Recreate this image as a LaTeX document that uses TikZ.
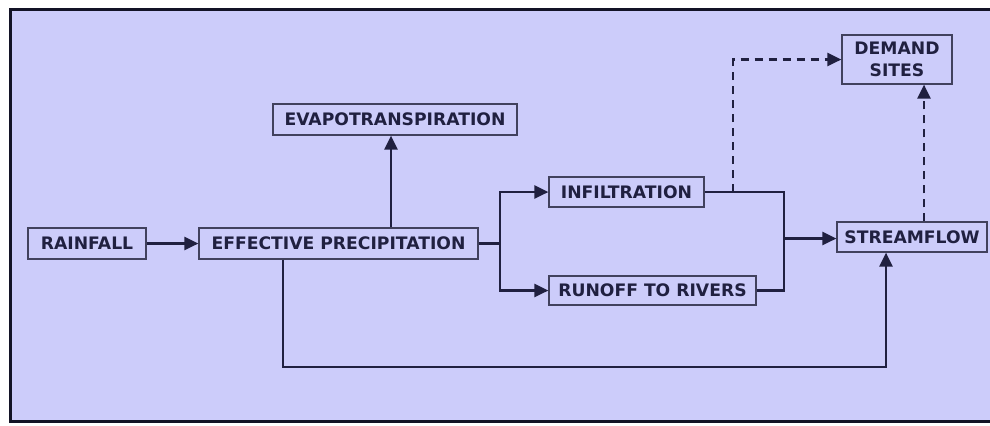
\documentclass[tikz,border=0pt]{standalone}
\usepackage{fontspec}
\setmainfont{DejaVu Sans}
\usetikzlibrary{arrows.meta}

\definecolor{lavender}{RGB}{204,204,250}
\definecolor{inkblue}{RGB}{32,32,64}

\tikzset{
  stage/.style={draw=inkblue!85, line width=0.6pt, fill=lavender, inner sep=0pt,
    font=\bfseries\fontsize{8.6}{10}\selectfont, text=inkblue, align=center},
  link/.style={line width=1.2pt, draw=inkblue},
  flow/.style={link, -{Triangle[length=7pt,width=6.5pt]}},
  supply/.style={flow, dash pattern=on 4pt off 3pt}
}

\begin{document}
\begin{tikzpicture}[x=0.5pt, y=-0.5pt]

  % Canvas and frame
  \useasboundingbox (0,0) rectangle (990,425);
  \clip (0,0) rectangle (990,425);
  \fill[white] (0,0) rectangle (990,425);
  \draw[line width=1.5pt, draw=inkblue!60!black, fill=lavender] (10.5,9.5) rectangle (1000,421);

  % Stages
  \node[stage, minimum width=59pt, minimum height=15.5pt] (rain) at (87,243.5) {RAINFALL};
  \node[stage, minimum width=139.5pt, minimum height=15.5pt] (eff) at (338.5,243.5) {EFFECTIVE PRECIPITATION};
  \node[stage, minimum width=122pt, minimum height=15.5pt] (evap) at (395,119.5) {EVAPOTRANSPIRATION};
  \node[stage, minimum width=77.5pt, minimum height=15pt] (infil) at (626.5,192) {INFILTRATION};
  \node[stage, minimum width=103.5pt, minimum height=14.5pt] (runoff) at (652.5,290.5) {RUNOFF TO RIVERS};
  \node[stage, minimum width=75pt, minimum height=15pt] (stream) at (912,237) {STREAMFLOW};
  \node[stage, minimum width=55pt, minimum height=24.5pt] (demand) at (897,59.5) {DEMAND\\[1pt]SITES};

  % Junctions
  \coordinate (split) at (500,243.5);
  \coordinate (merge) at (784,238.5);
  \coordinate (tap) at (733,192);
  \coordinate (loopL) at (283,367);
  \coordinate (loopR) at (886,367);

  % Connectors
  \draw[flow] (rain) -- (eff);
  \draw[flow] (391,0 |- eff.north) -- (391,0 |- evap.south);
  \draw[link] (eff) -- (split);
  \draw[flow] (split) |- (infil);
  \draw[flow] (split) |- (runoff);
  \draw[link] (infil) -| (merge);
  \draw[link] (runoff) -| (merge);
  \draw[flow] (merge) -- (merge -| stream.west);
  \draw[flow] (loopL |- eff.south) -- (loopL) -- (loopR) -- (loopR |- stream.south);

  % Supply to demand sites
  \draw[supply] (tap) |- (demand);
  \draw[supply] (924,0 |- stream.north) -- (924,0 |- demand.south);
\end{tikzpicture}
\end{document}
